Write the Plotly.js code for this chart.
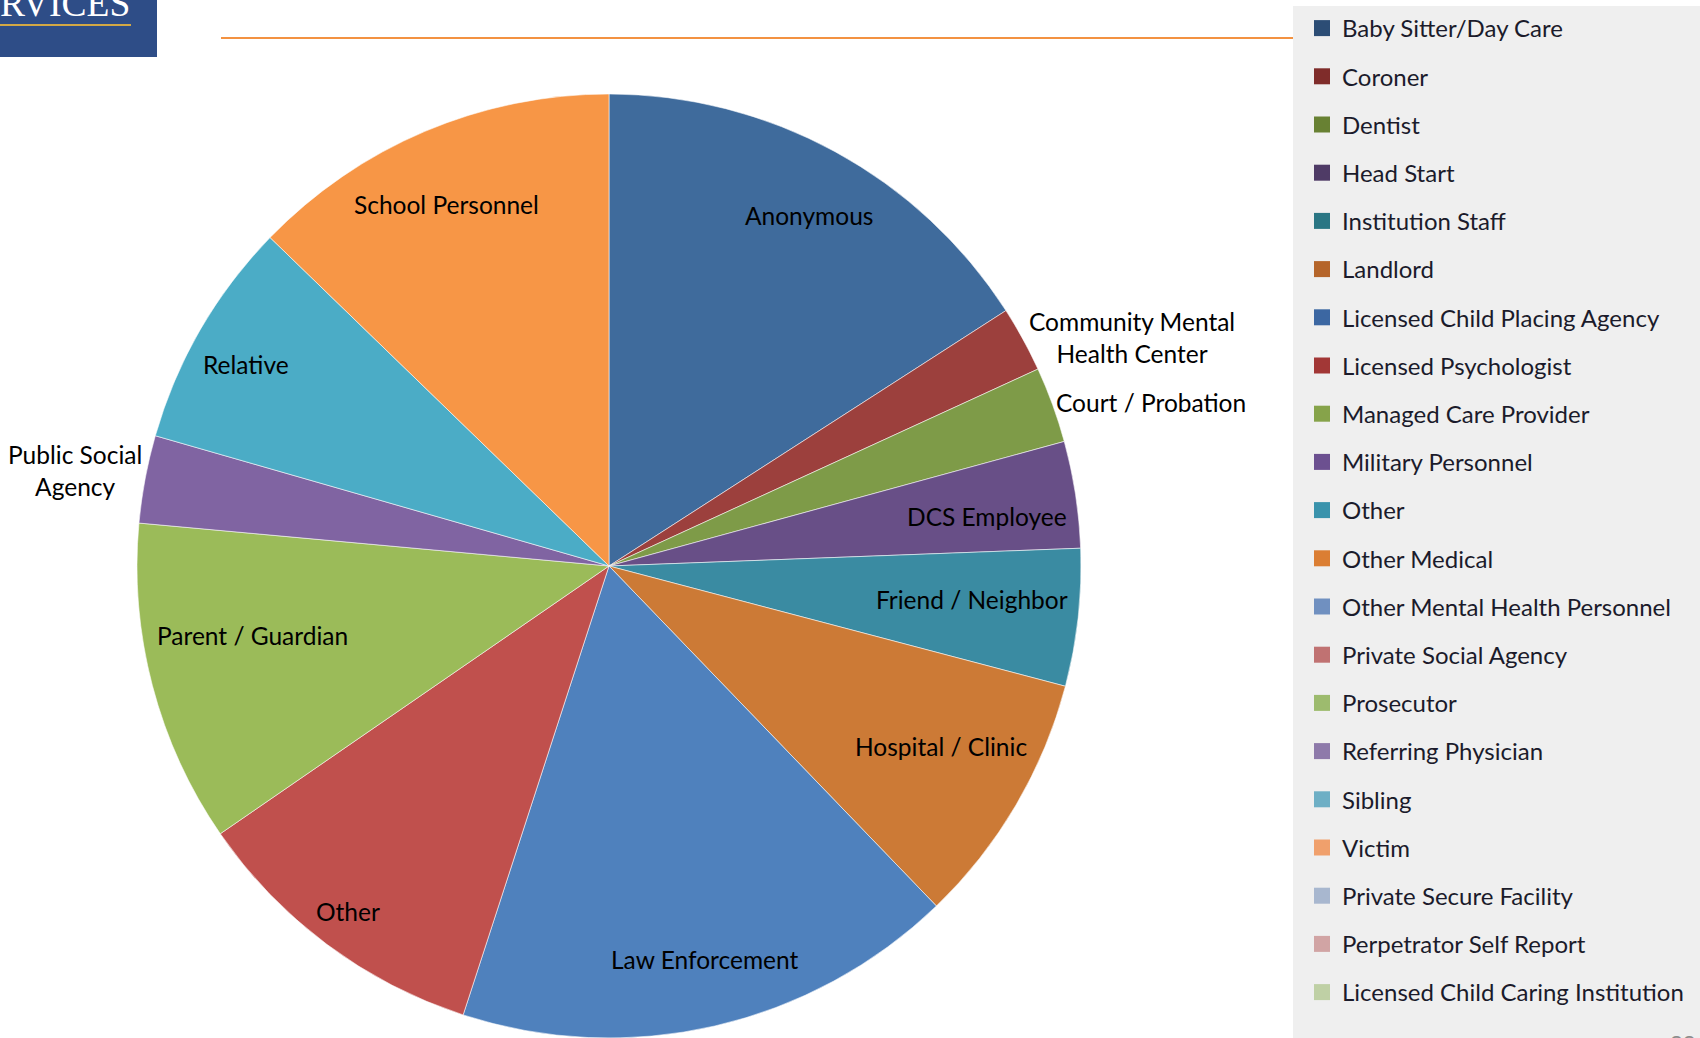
<!DOCTYPE html>
<html>
<head>
<meta charset="utf-8">
<script src="https://cdn.plot.ly/plotly-3.0.1.min.js"></script>
<style>
  html, body { margin: 0; padding: 0; background: #ffffff; }
  #chart { width: 1700px; height: 1038px; }
</style>
</head>
<body>
<div id="chart"></div>
<script>
// ---- Pie data (percent share) ----
const sliceLabels = ['Anonymous', 'Community Mental Health Center', 'Court / Probation', 'DCS Employee',
  'Friend / Neighbor', 'Hospital / Clinic', 'Law Enforcement', 'Other', 'Parent / Guardian',
  'Public Social Agency', 'Relative', 'School Personnel'];
const sliceValues = [15.9, 2.25, 2.6, 3.65, 4.7, 8.7, 17.2, 10.4, 11.05, 3.0, 7.8, 12.75];
const sliceColors = ['#3F6B9C', '#9C403D', '#7E9B48', '#684F87', '#3A8BA2', '#CC7A36',
  '#4F81BD', '#C0504D', '#9BBB59', '#8064A2', '#4BACC6', '#F79646'];
const sliceLabelText = ['Anonymous', 'Community Mental<br>Health Center', 'Court / Probation', 'DCS Employee',
  'Friend / Neighbor', 'Hospital / Clinic', 'Law Enforcement', 'Other', 'Parent / Guardian',
  'Public Social<br>Agency', 'Relative', 'School Personnel'];
// label placement style: radial factor and angle nudge (degrees)
const labelRadius = [0.856, 1.21, 1.2, 0.807, 0.773, 0.80, 0.857, 0.917, 0.77, 1.15, 0.88, 0.84];
const labelAngleNudge = [1.1, 5.1, 3.2, 1.2, -1.0, -1.9, -0.7, 0.4, 3.6, -0.5, -1.1, -1.25];

// ---- Legend entries (as shown on the slide) ----
const legendNames = ['Baby Sitter/Day Care', 'Coroner', 'Dentist', 'Head Start', 'Institution Staff',
  'Landlord', 'Licensed Child Placing Agency', 'Licensed Psychologist', 'Managed Care Provider',
  'Military Personnel', 'Other', 'Other Medical', 'Other Mental Health Personnel',
  'Private Social Agency', 'Prosecutor', 'Referring Physician', 'Sibling', 'Victim',
  'Private Secure Facility', 'Perpetrator Self Report', 'Licensed Child Caring Institution'];
const legendColors = ['#2C4D75', '#7F2C2A', '#688133', '#4F3B66', '#2A7684', '#B5652A',
  '#3C67A2', '#A23736', '#86A34A', '#6C5090', '#3A93AC', '#DB7E33', '#7090C0',
  '#C07272', '#9DBB6E', '#8E7AAA', '#6EAFC5', '#F0A06C', '#A8B7CF', '#D1A4A4', '#BFD0A5'];

const W = 1700, H = 1038;
const pieDomX = [137 / W, 1081 / W];
const pieDomY = [0, 944 / H];
const cx = (pieDomX[0] + pieDomX[1]) / 2 * W;
const cy = (1 - (pieDomY[0] + pieDomY[1]) / 2) * H;
const R = Math.min((pieDomX[1] - pieDomX[0]) * W, (pieDomY[1] - pieDomY[0]) * H) / 2;

const labelFont = {family: 'Lato, "Open Sans", sans-serif', size: 24.5, color: '#000000'};
const total = sliceValues.reduce((a, b) => a + b, 0);
const annotations = [];
let cum = 0;
sliceValues.forEach((v, i) => {
  const mid = ((cum + v / 2) / total * 360 + labelAngleNudge[i]) * Math.PI / 180;
  cum += v;
  const r = R * labelRadius[i];
  const px = cx + r * Math.sin(mid);
  const py = cy - r * Math.cos(mid);
  annotations.push({
    xref: 'paper', yref: 'paper', x: px / W, y: 1 - py / H,
    xanchor: 'center', yanchor: 'middle', showarrow: false,
    text: sliceLabelText[i], font: labelFont, align: 'center'
  });
});

// header decorations
annotations.push({
  xref: 'paper', yref: 'paper', x: -2 / W, y: 1 - 3 / H, xanchor: 'left', yanchor: 'middle',
  showarrow: false, text: 'RVICES',
  font: {family: '"Liberation Serif", "DejaVu Serif", serif', size: 37.5, color: '#ffffff'}
});
annotations.push({
  xref: 'paper', yref: 'paper', x: 1668 / W, y: 1 - 1027 / H, xanchor: 'left', yanchor: 'top',
  showarrow: false, text: '23',
  font: {family: 'Lato, sans-serif', size: 22, color: '#8C8C8C'}
});

const traces = [{
  type: 'pie',
  labels: sliceLabels,
  values: sliceValues,
  sort: false,
  direction: 'clockwise',
  rotation: 0,
  textinfo: 'none',
  hoverinfo: 'label+percent',
  marker: {colors: sliceColors, line: {color: 'rgba(255,255,255,0.55)', width: 1}},
  domain: {x: pieDomX, y: pieDomY},
  showlegend: false
}];

legendNames.forEach((name, i) => {
  traces.push({
    type: 'scatter', mode: 'markers', x: [null], y: [null], name: name,
    legendgroup: 'g' + i,
    marker: {symbol: 'square', size: 16, color: legendColors[i]},
    hoverinfo: 'skip'
  });
});

const layout = {
  width: W, height: H,
  margin: {l: 0, r: 0, t: 0, b: 0},
  paper_bgcolor: '#ffffff',
  plot_bgcolor: 'rgba(0,0,0,0)',
  xaxis: {visible: false, domain: [0, 1]},
  yaxis: {visible: false, domain: [0, 1]},
  showlegend: true,
  legend: {
    x: 1302 / W, y: 1 - 6 / H, xanchor: 'left', yanchor: 'top',
    bgcolor: 'rgba(0,0,0,0)', borderwidth: 0,
    font: {family: 'Lato, "Open Sans", sans-serif', size: 24, color: '#1B1B2B'},
    tracegroupgap: 14, itemclick: false, itemdoubleclick: false
  },
  annotations: annotations,
  shapes: [
    {type: 'rect', xref: 'paper', yref: 'paper', x0: 1293 / W, x1: 1, y0: 0, y1: 1 - 6 / H,
      fillcolor: '#EFEFEF', line: {width: 0}, layer: 'below'},
    {type: 'rect', xref: 'paper', yref: 'paper', x0: 0, x1: 157 / W, y0: 1 - 57 / H, y1: 1,
      fillcolor: '#2E4D87', line: {width: 0}, layer: 'below'},
    {type: 'line', xref: 'paper', yref: 'paper', x0: 0, x1: 131 / W, y0: 1 - 25 / H, y1: 1 - 25 / H,
      line: {color: '#D3A845', width: 2}},
    {type: 'line', xref: 'paper', yref: 'paper', x0: 221 / W, x1: 1293 / W, y0: 1 - 38 / H, y1: 1 - 38 / H,
      line: {color: '#F39241', width: 2}}
  ]
};

Plotly.newPlot('chart', traces, layout, {displayModeBar: false, staticPlot: true});
</script>
</body>
</html>
